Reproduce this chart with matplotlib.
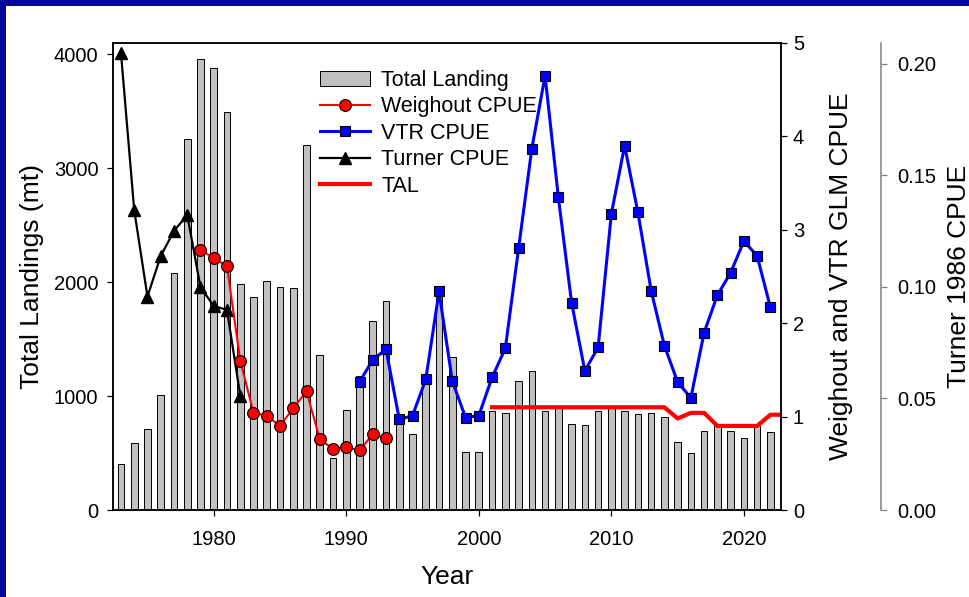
import matplotlib
matplotlib.use("Agg")
import matplotlib.pyplot as plt
from matplotlib.patches import Rectangle

plt.rcParams['font.family'] = ['Liberation Sans', 'DejaVu Sans']

# total landings (mt), one bar per year
years = list(range(1973, 2023))
landings = [401, 585, 713, 1011, 2082, 3260, 3962, 3883, 3497, 1988,
            1871, 2009, 1956, 1945, 3208, 1363, 459, 877, 1178, 1658,
            1833, 785, 667, 1110, 1940, 1339, 512, 512, 868, 848,
            1134, 1219, 868, 897, 754, 746, 868, 897, 868, 839,
            848, 819, 599, 497, 693, 737, 693, 634, 737, 684]

wo_years = list(range(1979, 1994))
weighout = [2.78, 2.70, 2.61, 1.60, 1.04, 1.01, 0.90, 1.09, 1.27, 0.76,
            0.65, 0.67, 0.64, 0.81, 0.77]

vtr_years = list(range(1991, 2023))
vtr = [1.37, 1.61, 1.72, 0.97, 1.01, 1.40, 2.34, 1.38, 0.99, 1.01,
       1.42, 1.73, 2.80, 3.87, 4.65, 3.35, 2.22, 1.49, 1.74, 3.17,
       3.90, 3.19, 2.35, 1.76, 1.37, 1.20, 1.90, 2.30, 2.54, 2.88,
       2.72, 2.17]

turner_years = list(range(1973, 1983))
turner = [0.205, 0.1345, 0.0957, 0.1139, 0.1251, 0.1323, 0.0999, 0.0915,
          0.0897, 0.0513]

tal_years = list(range(2001, 2024))
tal = [1.10, 1.10, 1.10, 1.10, 1.10, 1.10, 1.10, 1.10, 1.10, 1.10,
       1.10, 1.10, 1.10, 1.10, 0.98, 1.04, 1.04, 0.90, 0.90, 0.90,
       0.90, 1.02, 1.02]

W, H = 970, 597
fig = plt.figure(figsize=(W / 100, H / 100), dpi=100, facecolor='#05059a')
fig.add_artist(Rectangle((6 / W, 0), 1, (H - 6) / H, transform=fig.transFigure,
                         facecolor='white', edgecolor='none', zorder=-1))

ax = fig.add_axes([113 / W, (H - 510) / H, 668 / W, 467 / H])
bars = ax.bar(years, landings, width=0.5, color='#c0c0c0', edgecolor='black',
              linewidth=0.7)
ax.set_xlim(1972.4, 2022.8)
ax.set_ylim(0, 4100)
ax.set_xticks([1980, 1990, 2000, 2010, 2020])
ax.set_yticks([0, 1000, 2000, 3000, 4000])

ax2 = ax.twinx()
ax2.set_ylim(0, 5)
ax2.set_yticks([0, 1, 2, 3, 4, 5])
tal_line, = ax2.plot(tal_years, tal, color='red', lw=3)
wo_line, = ax2.plot(wo_years, weighout, '-o', color='red', mfc='red', mec='black',
                    ms=8.5, mew=0.8, lw=1.5)
vtr_line, = ax2.plot(vtr_years, vtr, '-s', color='blue', mfc='blue', mec='black',
                     ms=7.5, mew=0.8, lw=2.2)

ax3 = ax.twinx()
ax3.spines['right'].set_position(('axes', (881 - 113) / 668))
ax3.set_ylim(0, 0.2094)
ax3.set_yticks([0, 0.05, 0.10, 0.15, 0.20])
ax3.set_yticklabels(['0.00', '0.05', '0.10', '0.15', '0.20'])
turner_line, = ax3.plot(turner_years, turner, '-^', color='black', ms=8.5, lw=1.6)

ax.set_zorder(0)
ax3.set_zorder(1)
ax2.set_zorder(2)

for a in (ax, ax2):
    for s in a.spines.values():
        s.set_linewidth(1.1)
for s in ('top', 'bottom', 'left'):
    ax3.spines[s].set_visible(False)
ax3.spines['right'].set_color('#808080')
ax3.spines['right'].set_linewidth(1.1)

ax.tick_params(axis='both', direction='out', length=4.5, width=0.9, labelsize=14.5, pad=6)
ax.tick_params(axis='x', pad=10)
ax2.tick_params(axis='y', direction='out', length=4.5, width=0.9, labelsize=14.5, pad=4)
ax3.tick_params(axis='y', direction='out', length=4.5, width=0.9, labelsize=14.5, pad=7,
                color='#808080', labelcolor='black')

ax.set_ylabel('Total Landings (mt)', fontsize=19)
ax.yaxis.set_label_coords(-0.104, 0.5)
ax.set_xlabel('Year', fontsize=19)
ax.xaxis.set_label_coords(0.5, -0.118)
ax2.set_ylabel('Weighout and VTR GLM CPUE', fontsize=19)
ax2.yaxis.set_label_coords((829 - 113) / 668, 0.5)
ax3.set_ylabel('Turner 1986 CPUE', fontsize=19)
ax3.yaxis.set_label_coords((947 - 113) / 668, 0.5)

ax2.legend([bars, wo_line, vtr_line, turner_line, tal_line],
           ['Total Landing', 'Weighout CPUE', 'VTR CPUE', 'Turner CPUE', 'TAL'],
           loc='upper left', bbox_to_anchor=(320 / W, (H - 70) / H),
           bbox_transform=fig.transFigure, frameon=False, fontsize=15.5,
           handlelength=2.3, handletextpad=0.55, labelspacing=0.25,
           borderpad=0, borderaxespad=0)

fig.savefig('out.png', dpi=100, facecolor=fig.get_facecolor())
